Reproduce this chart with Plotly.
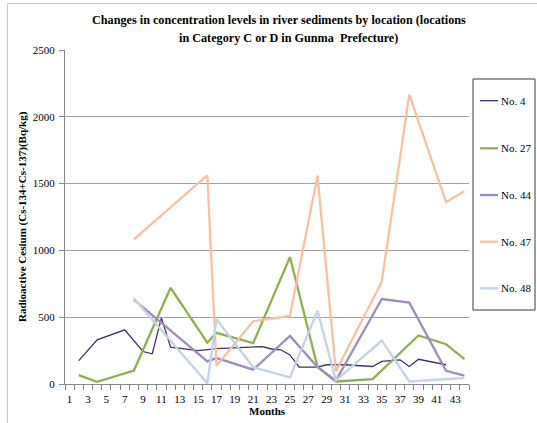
import plotly.graph_objects as go

months = list(range(1, 45))

no4 = {2: 175, 4: 330, 7: 405, 9: 243, 10: 226, 11: 495, 12: 276, 15: 250, 17: 265,
       21: 280, 22: 280, 23: 262, 24: 256, 25: 218, 26: 127, 28: 127, 29: 144, 31: 144,
       34: 131, 35: 169, 37: 181, 38: 131, 39: 185, 42: 144}
no27 = {2: 67, 4: 17, 8: 101, 12: 720, 16: 310, 17: 383, 21: 306, 25: 950, 28: 127,
        30: 19, 34: 37, 39: 363, 42: 298, 44: 187}
no44 = {8: 632, 12: 400, 16: 169, 17: 194, 21: 107, 25: 360, 28: 127, 30: 25,
        35: 636, 38: 609, 42: 99, 44: 62}
no47 = {8: 1082, 16: 1561, 17: 137, 21: 470, 25: 510, 28: 1561, 30: 94, 35: 766,
        38: 2166, 42: 1362, 44: 1442}
no48 = {8: 642, 16: 5, 17: 485, 21: 125, 25: 50, 28: 549, 30: 27, 35: 325, 38: 19,
        44: 45}

series_names = ["No. 4", "No. 27", "No. 44", "No. 47", "No. 48"]
series_data = [no4, no27, no44, no47, no48]
colors = ["#3f2f6e", "#8db14a", "#a08cc0", "#f8c0a2", "#c4d2e8"]
widths = [1.3, 2.3, 2.3, 2.3, 2.3]

y_ticks = [0, 500, 1000, 1500, 2000, 2500]
x_ticks = list(range(1, 44, 2))

W, H = 537, 423
PL, PR, PT, PB = 65, 469, 50, 384
FONT = "Liberation Serif"


def fx(px):
    return (px - PL) / (PR - PL)


def fy(py):
    return (PB - py) / (PB - PT)


fig = go.Figure()
for name, data, c, w in zip(series_names, series_data, colors, widths):
    fig.add_trace(go.Scatter(
        x=months, y=[data.get(m) for m in months], name=name, mode="lines",
        connectgaps=True, line=dict(color=c, width=w), showlegend=False))

shapes = []
annotations = []

# outer chart frame
shapes.append(dict(type="rect", xref="paper", yref="paper",
                   x0=fx(7.5), x1=fx(560), y0=fy(3.5), y1=fy(450),
                   line=dict(color="#c8c8c8", width=1), layer="below"))

# legend box
shapes.append(dict(type="rect", xref="paper", yref="paper",
                   x0=fx(473), x1=fx(535), y0=fy(79), y1=fy(310),
                   line=dict(color="#3a3a3a", width=1)))
leg_y = [100.7, 148.3, 195, 241.7, 288.3]
for name, c, w, ly in zip(series_names, colors, widths, leg_y):
    shapes.append(dict(type="line", xref="paper", yref="paper",
                       x0=fx(480), x1=fx(498), y0=fy(ly), y1=fy(ly),
                       line=dict(color=c, width=w)))
    annotations.append(dict(text=name, xref="paper", yref="paper",
                            x=fx(498.5), y=fy(ly), xanchor="left", yanchor="middle",
                            showarrow=False, font=dict(family=FONT, size=11, color="#000")))

# title
annotations.append(dict(text="<b>Changes in concentration levels in river sediments by location (locations</b>",
                        xref="paper", yref="paper", x=fx(279), y=fy(20),
                        xanchor="center", yanchor="middle", showarrow=False,
                        font=dict(family=FONT, size=12.2, color="#000")))
annotations.append(dict(text="<b>in Category C or D in Gunma  Prefecture)</b>",
                        xref="paper", yref="paper", x=fx(288), y=fy(38),
                        xanchor="center", yanchor="middle", showarrow=False,
                        font=dict(family=FONT, size=12.2, color="#000")))
# axis titles
annotations.append(dict(text="<b>Months</b>", xref="paper", yref="paper",
                        x=fx(267), y=fy(411), xanchor="center", yanchor="middle",
                        showarrow=False, font=dict(family=FONT, size=11, color="#000")))
annotations.append(dict(text="<b>Radioactive Cesium (Cs-134+Cs-137)(Bq/kg)</b>",
                        xref="paper", yref="paper", x=fx(22), y=fy(217), textangle=-90,
                        xanchor="center", yanchor="middle",
                        showarrow=False, font=dict(family=FONT, size=11, color="#000")))

fig.update_layout(
    width=W, height=H,
    margin=dict(l=PL, r=W - PR, t=PT, b=H - PB, pad=0),
    paper_bgcolor="white", plot_bgcolor="white",
    shapes=shapes, annotations=annotations,
    showlegend=False,
    font=dict(family=FONT, size=11, color="#000"),
)
fig.update_xaxes(
    range=[0.5, 44.5], tickmode="array", tickvals=x_ticks,
    ticktext=[str(v) for v in x_ticks], ticks="", showgrid=False,
    showline=True, linecolor="#868686", linewidth=1, zeroline=False,
    tickfont=dict(family=FONT, size=11, color="#000"), ticklabelstandoff=5,
    minor=dict(ticks="outside", ticklen=5, tickcolor="#868686", tickwidth=1,
               tickmode="array", tickvals=[m + 0.5 for m in range(0, 45)],
               showgrid=False),
)
fig.update_yaxes(
    range=[0, 2500], tickmode="array", tickvals=y_ticks,
    ticks="outside", ticklen=5, tickcolor="#868686",
    showgrid=True, gridcolor="#a0a0a0", gridwidth=1,
    showline=True, linecolor="#868686", linewidth=1, zeroline=False,
    tickfont=dict(family=FONT, size=11, color="#000"), ticklabelstandoff=2,
)

fig.write_html("out.html")
